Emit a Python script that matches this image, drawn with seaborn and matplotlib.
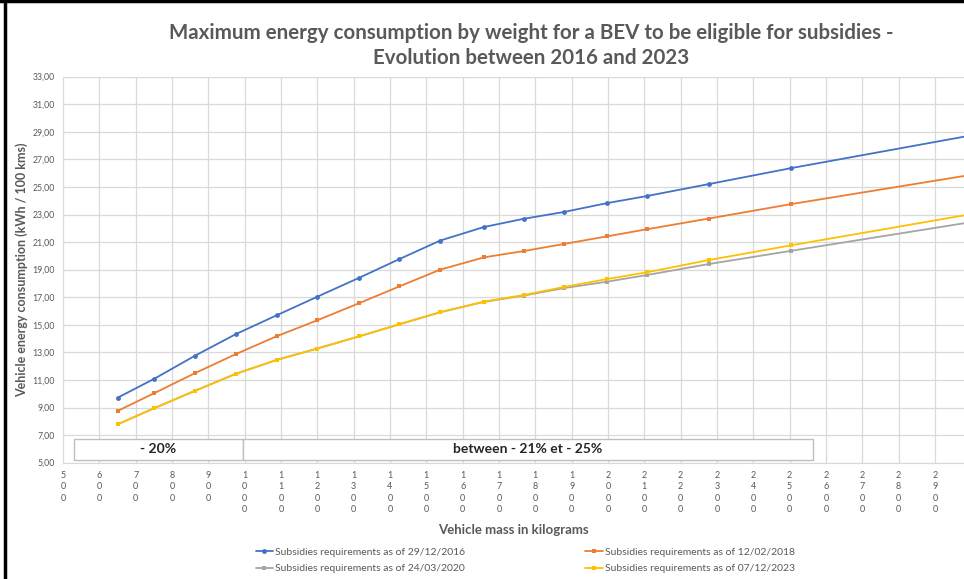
import seaborn as sns
import matplotlib.pyplot as plt
import pandas as pd
from matplotlib.patches import Rectangle
from matplotlib.lines import Line2D

# vehicle mass (kg) and max consumption (kWh / 100 km)
MASS = [650, 750, 862, 976, 1088, 1200, 1316, 1426, 1538, 1658, 1768,
        1878, 1998, 2107, 2278, 2505, 3000]
REQ_2016 = [9.71, 11.07, 12.74, 14.33, 15.69, 17.04, 18.42, 19.77, 21.11, 22.09,
            22.69, 23.18, 23.83, 24.34, 25.21, 26.37, 28.74]
REQ_2018 = [8.75, 10.03, 11.48, 12.88, 14.17, 15.33, 16.58, 17.79, 19.00, 19.89,
            20.35, 20.86, 21.42, 21.93, 22.71, 23.76, 25.88]
REQ_2020 = [7.78, 8.94, 10.20, 11.45, 12.45, 13.28, 14.17, 15.04, 15.91, 16.66,
            17.12, 17.66, 18.13, 18.61, 19.41, 20.37, 22.45]
REQ_2023 = [7.78, 8.94, 10.20, 11.45, 12.45, 13.28, 14.17, 15.04, 15.91, 16.68,
            17.16, 17.74, 18.32, 18.81, 19.70, 20.77, 23.03]

SERIES = ["Subsidies requirements as of 29/12/2016",
          "Subsidies requirements as of 12/02/2018",
          "Subsidies requirements as of 24/03/2020",
          "Subsidies requirements as of 07/12/2023"]
COLORS = ["#4472C4", "#ED7D31", "#A5A5A5", "#FFC000"]
MARKERS = ["o", "s", "s", "s"]

X_TICKS = list(range(500, 3000, 100))
Y_TICKS = list(range(5, 35, 2))

# reduction bands shown at the bottom of the chart
BANDS = [("- 20%", 530, 995), ("between - 21% et - 25%", 995, 2565)]

GREY_TEXT = "#595959"
GRID = "#D9D9D9"

df = pd.concat([
    pd.DataFrame({"mass": MASS, "value": vals, "series": name})
    for name, vals in zip(SERIES, [REQ_2016, REQ_2018, REQ_2020, REQ_2023])
])

sns.set_style("white")
plt.rcParams["font.family"] = ["Lato", "DejaVu Sans"]

fig = plt.figure(figsize=(9.64, 5.79), dpi=100)
ax = fig.add_axes([0.0654, 0.2009, 0.9346, 0.6667])

sns.lineplot(data=df, x="mass", y="value", hue="series", style="series",
             palette=COLORS, markers=MARKERS, dashes=False, sort=False,
             linewidth=1.3, markersize=3.5, markeredgewidth=0, legend=False, ax=ax)

ax.set_xlim(500, 2980)
ax.set_ylim(5, 33)
ax.set_xticks(X_TICKS)
ax.set_xticklabels(["\n".join(str(m)) for m in X_TICKS], fontsize=6.5,
                   color=GREY_TEXT, linespacing=1.35, va="top")
ax.set_yticks(Y_TICKS)
ax.set_yticklabels([f"{v:.2f}".replace(".", ",") for v in Y_TICKS],
                   fontsize=6.3, color=GREY_TEXT)
ax.tick_params(length=3, color=GRID, pad=3)
ax.grid(True, color=GRID, linewidth=0.9)
ax.set_axisbelow(True)
for side in ["top", "right"]:
    ax.spines[side].set_visible(False)
for side in ["left", "bottom"]:
    ax.spines[side].set_color(GRID)

ax.set_xlabel("Vehicle mass in kilograms", fontsize=9.5, fontweight="bold",
              color=GREY_TEXT, labelpad=7)
ax.set_ylabel("Vehicle energy consumption (kWh / 100 kms)", fontsize=9,
              fontweight="bold", color=GREY_TEXT, labelpad=3)

for text, x0, x1 in BANDS:
    ax.add_patch(Rectangle((x0, 5.2), x1 - x0, 1.52, facecolor="white",
                           edgecolor="#BFBFBF", linewidth=1, zorder=3))
    ax.text((x0 + x1) / 2, 5.96, text, ha="center", va="center",
            fontsize=10, fontweight="bold", color="#262626", zorder=4)

fig.text(0.551, 0.921,
         "Maximum energy consumption by weight for a BEV to be eligible for subsidies -\n"
         "Evolution between 2016 and 2023",
         ha="center", va="center", fontsize=14.8, fontweight="bold",
         color=GREY_TEXT, linespacing=1.3)

handles = [Line2D([], [], color=c, marker=m, markersize=3.5, markeredgewidth=0,
                  linewidth=1.3) for c, m in zip(COLORS, MARKERS)]
order = [0, 2, 1, 3]
fig.legend([handles[i] for i in order], [SERIES[i] for i in order], ncol=2,
           loc="center", bbox_to_anchor=(0.545, 0.032), frameon=False,
           fontsize=7.5, handlelength=1.7, handletextpad=0.2,
           columnspacing=11.5, labelspacing=0.7, labelcolor=GREY_TEXT)

# outer chart frame (left and top edges visible in the crop)
fig.add_artist(Line2D([0.005, 0.005], [0, 1], color="black", linewidth=2.5,
                      transform=fig.transFigure))
fig.add_artist(Line2D([0, 1], [0.998, 0.998], color="black", linewidth=2.5,
                      transform=fig.transFigure))

fig.savefig("out.png", dpi=100)
